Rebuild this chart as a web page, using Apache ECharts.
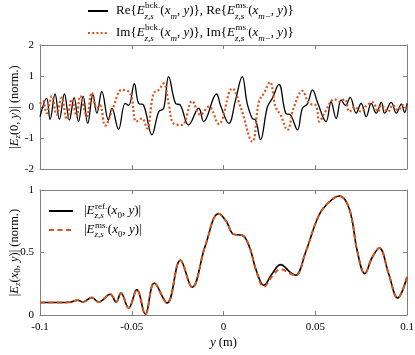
<!DOCTYPE html>
<html>
<head>
<meta charset="utf-8">
<script src="https://cdn.jsdelivr.net/npm/echarts@6/dist/echarts.min.js"></script>
<style>
  html, body { margin: 0; background: #fff; }
  #chart { width: 415px; height: 355px; }
</style>
</head>
<body>
<div id="chart"></div>
<script>
const reX = [-0.1, -0.0964, -0.0945, -0.0918, -0.0894, -0.0867, -0.084, -0.0814, -0.079, -0.0765, -0.074, -0.0712, -0.069, -0.0663, -0.0627, -0.0608, -0.0572, -0.0536, -0.0517, -0.0486, -0.0463, -0.0435, -0.039, -0.0353, -0.0326, -0.0299, -0.0262, -0.0235, -0.019, -0.0135, -0.0108, -0.0038, -0.0016, 0.0029, 0.0066, 0.0102, 0.0129, 0.0157, 0.0175, 0.0202, 0.0239, 0.0266, 0.0302, 0.0339, 0.0366, 0.0403, 0.043, 0.0457, 0.0485, 0.0514, 0.0559, 0.0586, 0.0614, 0.0641, 0.0665, 0.069, 0.0723, 0.075, 0.0778, 0.0805, 0.0832, 0.086, 0.0878, 0.0914, 0.0942, 0.0969, 0.0987, 0.1]
const reY = [-0.31, 0.28, -0.4, 0.42, -0.4, 0.42, -0.42, 0.3, -0.47, 0.35, -0.53, 0.4, -0.2, 0.5, -0.42, -0.04, -0.72, 0.12, 0.05, 0.75, 0.12, 0.06, -0.9, -0.15, -0.04, 0.98, 0.12, 0.06, -0.58, -0.04, -0.47, 0.42, 0.05, -0.53, 0.23, 0.98, 0.12, -0.37, -0.42, -1.05, 0.0, 0.28, 0.73, -0.2, -0.26, -0.74, -0.04, 0.1, 0.55, 0.12, -0.47, 0.17, -0.37, 0.23, 0.05, 0.31, -0.2, 0.12, -0.31, 0.12, -0.2, 0.15, -0.2, 0.15, -0.2, 0.09, -0.18, 0.12]
const imX = [-0.1, -0.0985, -0.0964, -0.0936, -0.0909, -0.0882, -0.0854, -0.0827, -0.08, -0.0781, -0.0745, -0.0718, -0.069, -0.0672, -0.0645, -0.06, -0.0554, -0.0508, -0.0475, -0.0444, -0.0417, -0.0381, -0.0353, -0.0326, -0.0299, -0.0272, -0.0226, -0.0171, -0.0126, -0.008, -0.0026, 0.0048, 0.0093, 0.0157, 0.0193, 0.022, 0.0253, 0.0284, 0.0311, 0.0348, 0.0384, 0.043, 0.0466, 0.0503, 0.0523, 0.055, 0.0605, 0.0632, 0.066, 0.0687, 0.0714, 0.075, 0.078, 0.0814, 0.0842, 0.086, 0.0896, 0.0923, 0.0951, 0.0978, 0.1]
const imY = [0.1, 0.2, -0.2, 0.35, -0.25, 0.3, -0.4, 0.25, -0.3, 0.35, -0.3, 0.46, -0.05, 0.05, -0.6, 0.0, 0.55, 0.44, -0.47, -0.37, -0.69, 0.44, 0.55, 0.76, 0.12, -0.53, -0.58, 0.19, -0.25, 0.01, -0.55, 0.6, 0.0, -1.12, 0.17, 0.44, 0.8, 0.0, -0.26, -0.74, 0.0, 0.52, 0.12, 0.05, -0.47, -0.2, 0.25, 0.17, 0.25, -0.15, 0.0, -0.15, 0.05, 0.15, -0.15, 0.06, -0.15, 0.06, -0.1, 0.06, -0.05]

// bottom panel: |E| reference (black) and measured (orange dashed)
const absX = [-0.1, -0.09, -0.084, -0.0795, -0.0765, -0.0718, -0.0681, -0.0617, -0.0585, -0.0559, -0.0517, -0.0472, -0.0426, -0.0377, -0.0308, -0.0235, -0.0171, -0.01, -0.0026, 0.0015, 0.0056, 0.0102, 0.014, 0.018, 0.022, 0.0265, 0.0311, 0.0366, 0.0393, 0.0448, 0.052, 0.0576, 0.063, 0.0685, 0.073, 0.077, 0.081, 0.0849, 0.09, 0.0949, 0.1]
const refY = [0.1, 0.1, 0.102, 0.118, 0.104, 0.14, 0.104, 0.166, 0.104, 0.176, 0.056, 0.203, 0.006, 0.256, 0.096, 0.438, 0.222, 0.55, 0.811, 0.75, 0.645, 0.638, 0.55, 0.35, 0.238, 0.33, 0.403, 0.339, 0.318, 0.504, 0.798, 0.904, 0.952, 0.851, 0.504, 0.331, 0.46, 0.536, 0.33, 0.136, 0.304]
const msY = [0.1, 0.1, 0.102, 0.118, 0.104, 0.14, 0.104, 0.166, 0.104, 0.176, 0.056, 0.203, 0.006, 0.256, 0.096, 0.438, 0.222, 0.55, 0.811, 0.75, 0.645, 0.638, 0.55, 0.345, 0.225, 0.31, 0.366, 0.33, 0.315, 0.504, 0.798, 0.904, 0.952, 0.851, 0.504, 0.331, 0.46, 0.536, 0.33, 0.136, 0.304]

const font = 'Liberation Serif'
const axisColor = '#808080'
const orange = '#D95319'

const zip = (xs, ys) => xs.map((x, i) => [x, ys[i]])

// sub/superscript styles for a given main font size and line height
function makeRich (size, lh) {
  const small = Math.round(size * 0.7)
  return {
    i: { fontFamily: font, fontStyle: 'italic', fontSize: size },
    // subscript drawn under the superscript that follows it
    sb: { fontFamily: font, fontStyle: 'italic', fontSize: small, width: 0.5, verticalAlign: 'bottom', lineHeight: lh / 2 + 1 },
    sbi: { fontFamily: font, fontStyle: 'italic', fontSize: small, verticalAlign: 'bottom', lineHeight: lh / 2 + 1 },
    sbr: { fontFamily: font, fontSize: small, verticalAlign: 'bottom', lineHeight: lh / 2 + 1 },
    sp: { fontFamily: font, fontSize: small, verticalAlign: 'top', lineHeight: lh / 2 - 1 }
  }
}

const legendNames = {
  re: 'Re{{i|E}{sb|z,s}{sp|bck.}({i|x}{sbi|m}, {i|y})}, Re{{i|E}{sb|z,s}{sp|ms.}({i|x}{sbi|m−}, {i|y})}',
  im: 'Im{{i|E}{sb|z,s}{sp|bck.}({i|x}{sbi|m}, {i|y})}, Im{{i|E}{sb|z,s}{sp|ms.}({i|x}{sbi|m−}, {i|y})}',
  ref: '|{i|E}{sb|z,s}{sp|ref.}({i|x}{sbr|0}, {i|y})|',
  ms: '|{i|E}{sb|z,s}{sp|ms.}({i|x}{sbr|0}, {i|y})|'
}

function xAxis (gridIndex, position, showLabel) {
  return {
    type: 'value',
    gridIndex: gridIndex,
    position: position,
    min: -0.1,
    max: 0.1,
    interval: 0.05,
    axisLine: { show: true, onZero: false, lineStyle: { color: axisColor, width: 1 } },
    axisTick: { show: true, inside: true, length: 4, lineStyle: { color: axisColor } },
    axisLabel: { show: showLabel, margin: 7, color: '#000', fontFamily: font, fontSize: 11 },
    splitLine: { show: false }
  }
}

function yAxis (gridIndex, position, min, max, interval, showLabel) {
  return {
    type: 'value',
    gridIndex: gridIndex,
    position: position,
    min: min,
    max: max,
    interval: interval,
    axisLine: { show: true, onZero: false, lineStyle: { color: axisColor, width: 1 } },
    axisTick: { show: true, inside: true, length: 4, lineStyle: { color: axisColor } },
    axisLabel: { show: showLabel, margin: 6, color: '#000', fontFamily: font, fontSize: 11 },
    splitLine: { show: false }
  }
}

const nameStyle = { color: '#000', fontFamily: font, fontSize: 12.5, lineHeight: 14, rich: makeRich(12.5, 14) }

function setName (axis, name, gap) {
  axis.name = name
  axis.nameLocation = 'middle'
  axis.nameGap = gap
  axis.nameMoveOverlap = false
  axis.nameTextStyle = nameStyle
  return axis
}

const topY = setName(yAxis(0, 'left', -2, 2, 1, true), '|{i|E}{sbi|z}(0, {i|y})| (norm.)', 18)
const botY = setName(yAxis(1, 'left', 0, 1, 0.5, true), '|{i|E}{sbi|z}({i|x}{sbr|0}, {i|y})| (norm.)', 18)
const botX = setName(xAxis(1, 'bottom', true), '{i|y} (m)', 21)

// hide the symbol in the legend icon, keep the line
const legendItem = { opacity: 0, borderWidth: 0 }

const option = {
  animation: false,
  backgroundColor: '#fff',
  grid: [
    { left: 40, right: 8, top: 45, height: 124, outerBoundsMode: 'none' },
    { left: 40, right: 8, top: 190, height: 125, outerBoundsMode: 'none' }
  ],
  legend: [
    {
      data: ['re', 'im'],
      orient: 'vertical',
      left: 82,
      top: -4,
      itemWidth: 20,
      itemHeight: 10,
      itemGap: 2,
      itemStyle: legendItem,
      formatter: name => legendNames[name],
      textStyle: { color: '#000', fontFamily: font, fontSize: 13, lineHeight: 20, padding: [0, 0, 0, 3], rich: makeRich(13, 20) }
    },
    {
      data: ['ref', 'ms'],
      orient: 'vertical',
      left: 43,
      top: 197,
      itemWidth: 24,
      itemHeight: 10,
      itemGap: 1,
      itemStyle: legendItem,
      formatter: name => legendNames[name],
      textStyle: { color: '#000', fontFamily: font, fontSize: 13, lineHeight: 18, padding: [0, 0, 0, 6], rich: makeRich(13, 18) }
    }
  ],
  xAxis: [
    xAxis(0, 'bottom', false),
    xAxis(0, 'top', false),
    botX,
    xAxis(1, 'top', false)
  ],
  yAxis: [
    topY,
    yAxis(0, 'right', -2, 2, 1, false),
    botY,
    yAxis(1, 'right', 0, 1, 0.5, false)
  ],
  series: [
    {
      name: 're',
      type: 'line',
      xAxisIndex: 0,
      yAxisIndex: 0,
      data: zip(reX, reY),
      symbol: 'none',
      smooth: 0.4,
      lineStyle: { color: '#000', width: 1.3 },
      itemStyle: { color: '#000' }
    },
    {
      name: 'im',
      type: 'line',
      xAxisIndex: 0,
      yAxisIndex: 0,
      data: zip(imX, imY),
      symbol: 'none',
      smooth: 0.4,
      lineStyle: { color: orange, width: 2.2, type: [2, 2.2] },
      itemStyle: { color: orange }
    },
    {
      name: 'ref',
      type: 'line',
      xAxisIndex: 2,
      yAxisIndex: 2,
      data: zip(absX, refY),
      symbol: 'none',
      smooth: 0.4,
      lineStyle: { color: '#000', width: 1.6 },
      itemStyle: { color: '#000' }
    },
    {
      name: 'ms',
      type: 'line',
      xAxisIndex: 2,
      yAxisIndex: 2,
      data: zip(absX, msY),
      symbol: 'none',
      smooth: 0.4,
      lineStyle: { color: orange, width: 2, type: [5, 3.5] },
      itemStyle: { color: orange }
    }
  ]
}

const chart = echarts.init(document.getElementById('chart'))
chart.setOption(option)
window.addEventListener('resize', () => chart.resize())
</script>
</body>
</html>
